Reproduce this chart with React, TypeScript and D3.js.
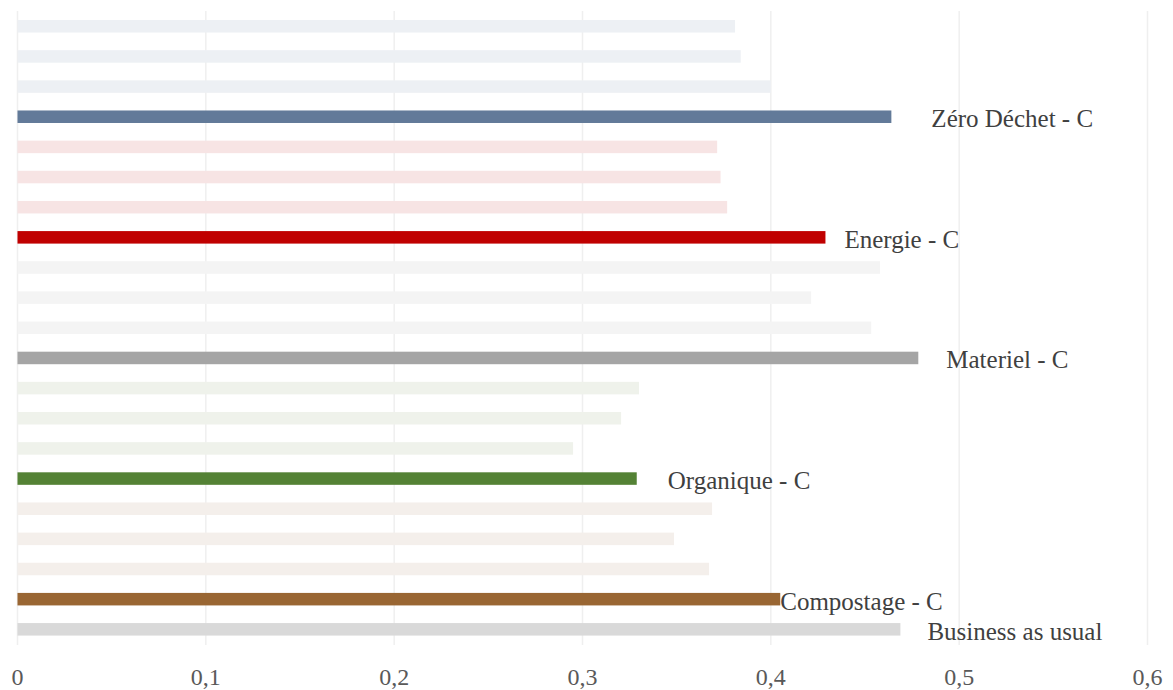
import React from "react";
import * as d3 from "d3";

const categories = [
  "Zéro Déchet - F", "Zéro Déchet - E", "Zéro Déchet - D", "Zéro Déchet - C",
  "Energie - F", "Energie - E", "Energie - D", "Energie - C",
  "Materiel - F", "Materiel - E", "Materiel - D", "Materiel - C",
  "Organique - F", "Organique - E", "Organique - D", "Organique - C",
  "Compostage - F", "Compostage - E", "Compostage - D", "Compostage - C",
  "Business as usual",
];
const values = [
  0.381, 0.384, 0.4, 0.464,
  0.3715, 0.3733, 0.3768, 0.429,
  0.458, 0.4214, 0.4533, 0.4783,
  0.330, 0.3205, 0.295, 0.3288,
  0.3688, 0.3486, 0.3672, 0.405,
  0.4688,
];
const groupOf = [
  "zero", "zero", "zero", "zeroC",
  "energie", "energie", "energie", "energieC",
  "materiel", "materiel", "materiel", "materielC",
  "organique", "organique", "organique", "organiqueC",
  "compost", "compost", "compost", "compostC",
  "bau",
];
const shownLabels = ["Zéro Déchet - C", "Energie - C", "Materiel - C", "Organique - C", "Compostage - C", "Business as usual"];
const labelGap = [40, 19, 28, 31, 0, 27];
const ticks = [0, 0.1, 0.2, 0.3, 0.4, 0.5, 0.6];

const colors: Record<string, string> = {
  zero: "#edf0f4", zeroC: "#627a99",
  energie: "#f7e4e4", energieC: "#c00000",
  materiel: "#f4f4f4", materielC: "#a5a5a5",
  organique: "#eff2eb", organiqueC: "#548235",
  compost: "#f4efeb", compostC: "#996633",
  bau: "#d9d9d9",
};

export default function App() {
  const W = 1173, H = 690;
  const x = d3.scaleLinear().domain([0, 0.6]).range([17.5, 1147.5]);
  const y = d3.scaleBand<string>().domain(categories).range([11.2, 644.4]).paddingInner(0.585).paddingOuter(0.2925);
  const font = "'Liberation Serif', 'Times New Roman', serif";
  return (
    <svg width={W} height={H} style={{ position: "absolute", left: 0, top: 0, background: "#fff" }}>
      {ticks.map((t) => (
        <line key={"g" + t} x1={x(t)} x2={x(t)} y1={11} y2={645} stroke="#efefef" strokeWidth={1.5} />
      ))}
      {categories.map((c, i) => (
        <rect key={c} x={x(0)} y={y(c)!} width={x(values[i]) - x(0)} height={y.bandwidth()} fill={colors[groupOf[i]]} />
      ))}
      {shownLabels.map((l, k) => {
        const i = categories.indexOf(l);
        return (
          <text key={l} x={x(values[i]) + labelGap[k]} y={y(l)! + y.bandwidth() / 2} dy="0.42em"
            fontFamily={font} fontSize={25} fill="#404040">{l}</text>
        );
      })}
      {ticks.map((t) => (
        <text key={"t" + t} x={x(t)} y={677} dy="0.35em" textAnchor="middle" fontFamily={font} fontSize={24} fill="#595959">
          {d3.format(".1~f")(t).replace(".", ",")}
        </text>
      ))}
    </svg>
  );
}
